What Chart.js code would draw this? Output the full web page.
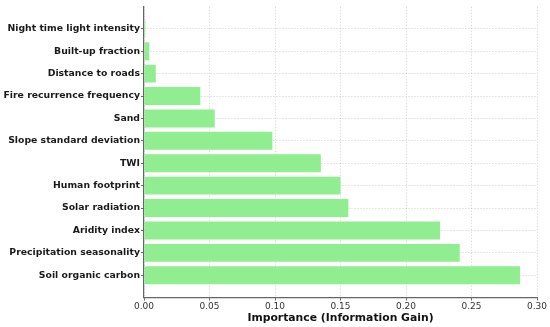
<!DOCTYPE html>
<html>
<head>
<meta charset="utf-8">
<script src="https://cdn.jsdelivr.net/npm/chart.js@4"></script>
<style>
  html, body { margin: 0; padding: 0; background: #fff; }
  #wrap { width: 550px; height: 327px; }
</style>
</head>
<body>
<div id="wrap"><canvas id="importanceChart" width="550" height="327"></canvas></div>
<script>
// features, listed top to bottom as in the figure
const features = [
  "Night time light intensity",
  "Built-up fraction",
  "Distance to roads",
  "Fire recurrence frequency",
  "Sand",
  "Slope standard deviation",
  "TWI",
  "Human footprint",
  "Solar radiation",
  "Aridity index",
  "Precipitation seasonality",
  "Soil organic carbon"
];
const importance = [0.001, 0.004, 0.009, 0.043, 0.054, 0.098, 0.135, 0.150, 0.156, 0.226, 0.241, 0.287];
const xTicks = [0, 0.05, 0.10, 0.15, 0.20, 0.25, 0.30];

const gridColor = "rgba(0,0,0,0.13)";

const ctx = document.getElementById("importanceChart");

new Chart(ctx, {
  type: "bar",
  data: {
    datasets: [{
      label: "Importance",
      data: importance.map((v, i) => ({ x: v, y: i })),
      backgroundColor: "#90ee90",
      borderWidth: 0,
      barPercentage: 0.8,
      categoryPercentage: 1
    }]
  },
  options: {
    indexAxis: "y",
    responsive: false,
    animation: false,
    layout: { padding: { top: 3, right: 13, left: 0, bottom: 0 } },
    plugins: {
      legend: { display: false },
      tooltip: { enabled: false }
    },
    scales: {
      x: {
        type: "linear",
        min: 0,
        max: 0.3,
        z: 1,
        afterBuildTicks: s => { s.ticks = xTicks.map(v => ({ value: v })); },
        afterFit: s => { s.height = 29.5; },
        grid: {
          color: gridColor,
          tickLength: 3,
          tickColor: "#666",
          tickBorderDash: []
        },
        border: { display: true, color: "#666", width: 1.2, dash: [1.5, 1.5] },
        ticks: {
          padding: 1,
          color: "#333",
          font: { family: "DejaVu Sans", size: 9 },
          callback: v => v.toFixed(2)
        },
        title: {
          display: true,
          text: "Importance (Information Gain)",
          color: "#111",
          font: { family: "DejaVu Sans", size: 10.8, weight: "bold" },
          padding: { top: 0, bottom: 2 }
        }
      },
      y: {
        type: "linear",
        min: -0.99,
        max: 11.99,
        reverse: true,
        offset: false,
        z: 1,
        afterBuildTicks: s => { s.ticks = features.map((f, i) => ({ value: i })); },
        afterFit: s => { s.width = 144; },
        grid: {
          offset: false,
          color: gridColor,
          tickLength: 3,
          tickColor: "#666",
          tickBorderDash: []
        },
        border: { display: true, color: "#666", width: 1.2, dash: [1.5, 1.5] },
        ticks: {
          padding: 1,
          color: "#1a1a1a",
          font: { family: "DejaVu Sans", size: 9.3, weight: "bold" },
          callback: v => features[v]
        }
      }
    }
  }
});
</script>
</body>
</html>
